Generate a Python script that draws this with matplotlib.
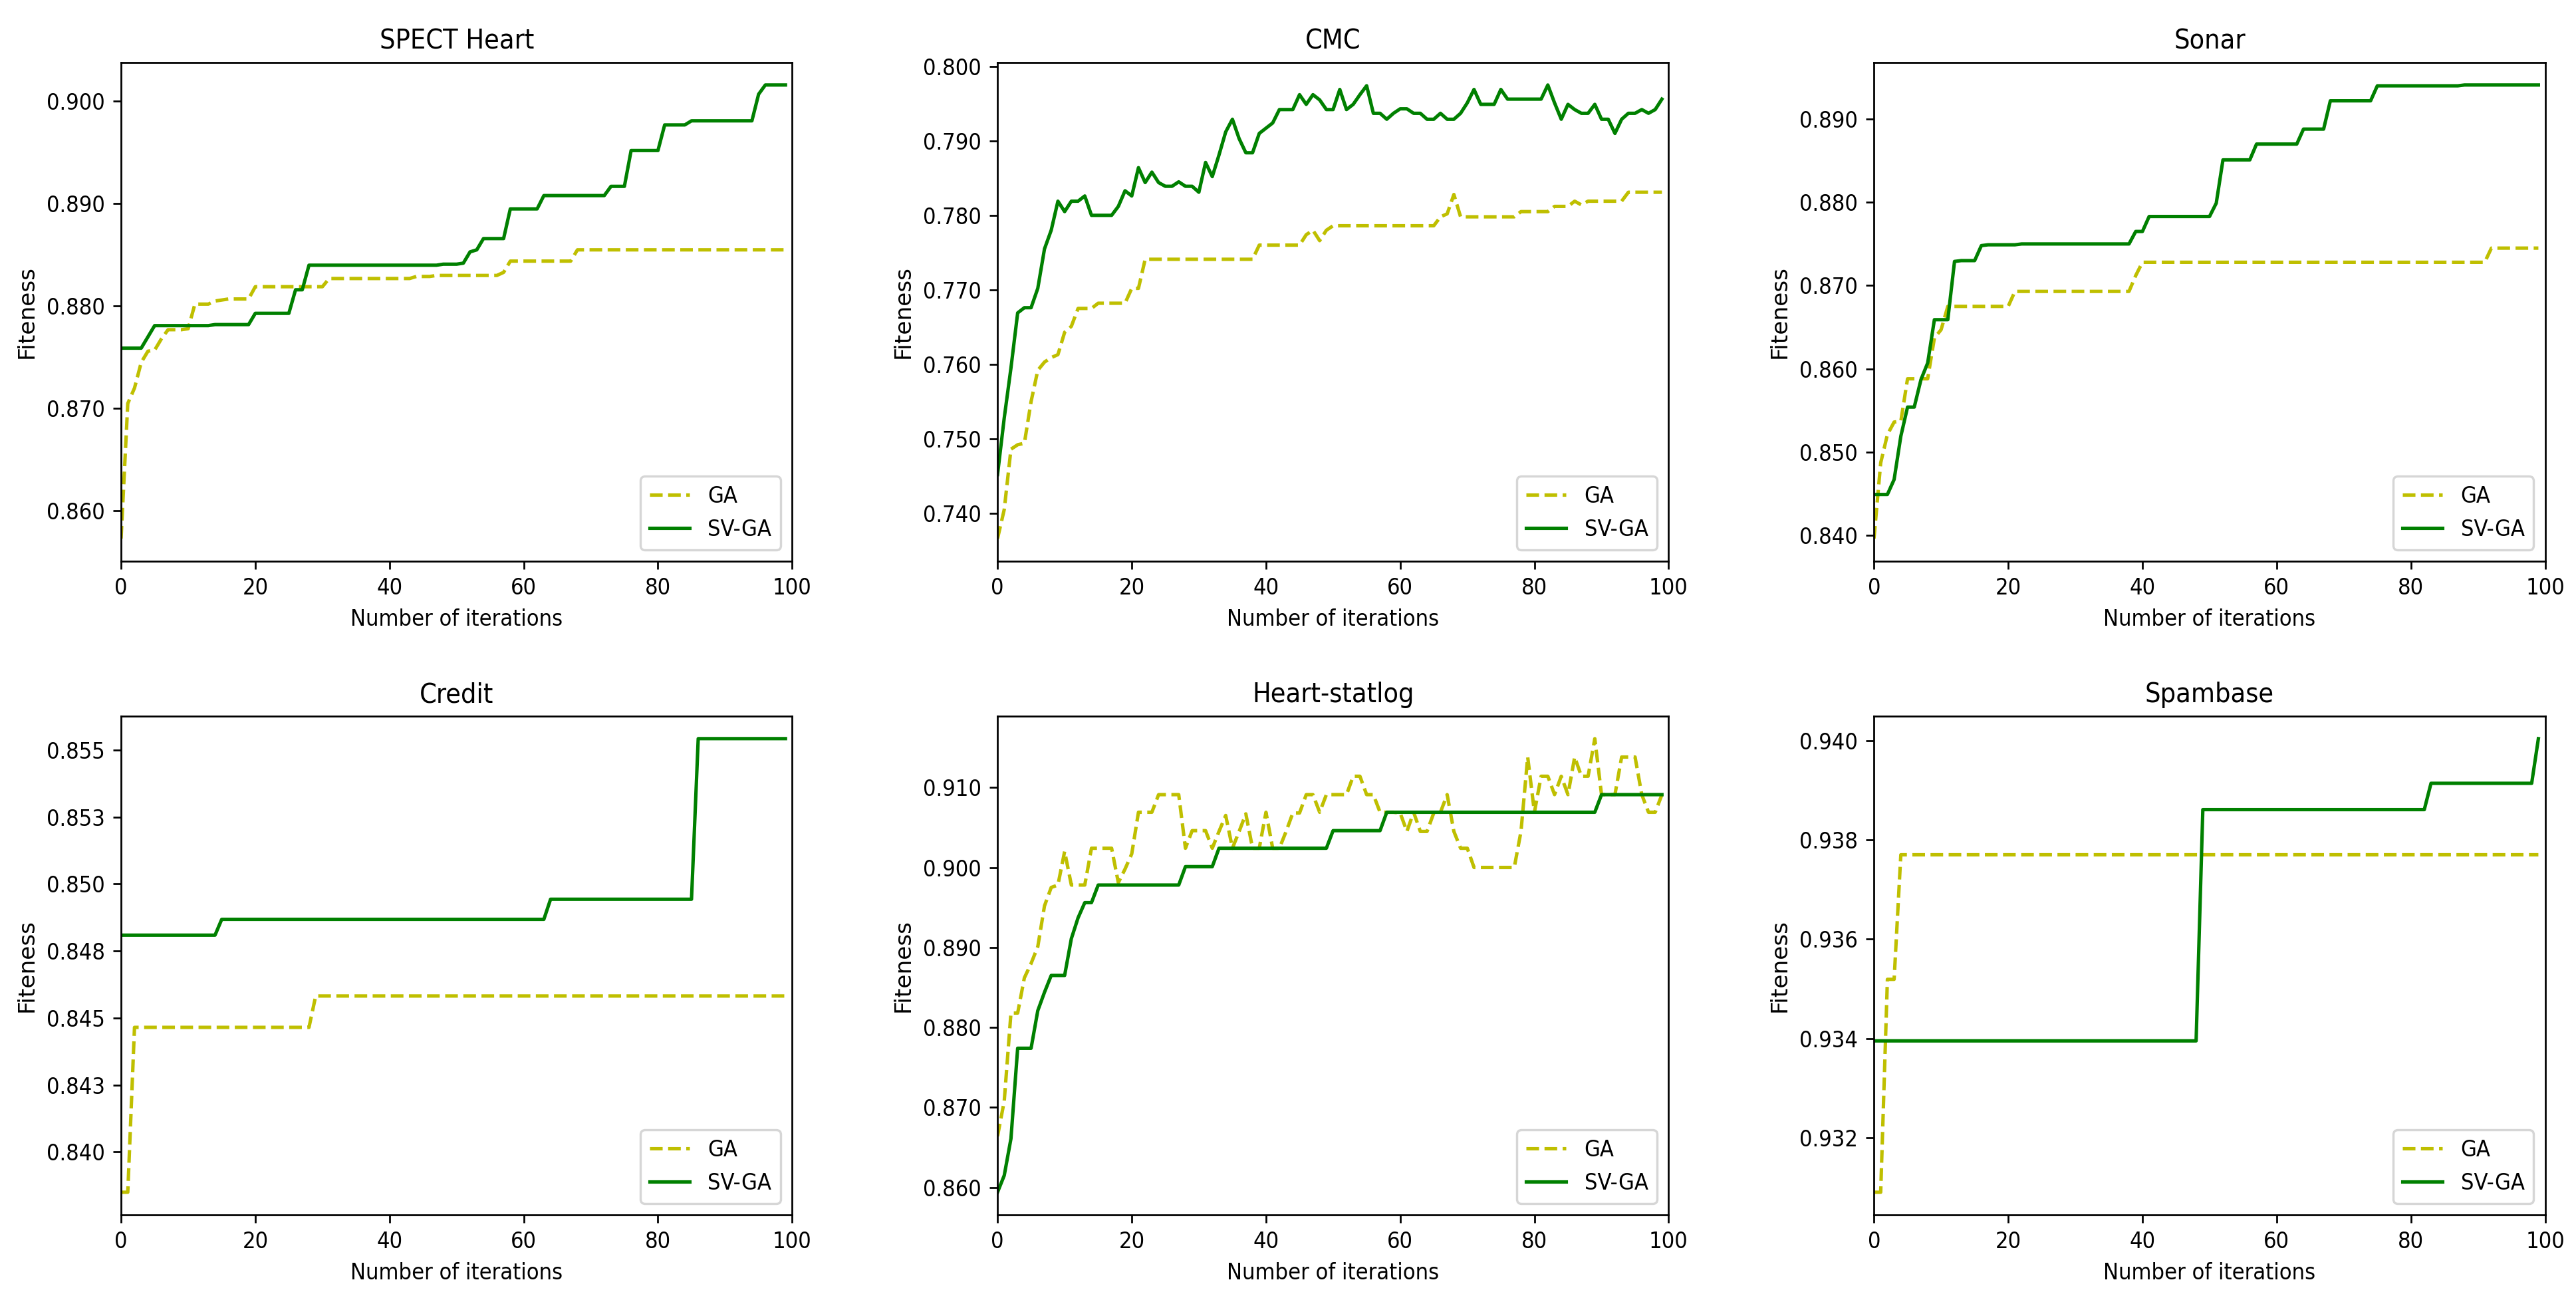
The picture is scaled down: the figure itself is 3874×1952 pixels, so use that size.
import matplotlib
matplotlib.use("Agg")
import matplotlib.pyplot as plt
from matplotlib.ticker import FuncFormatter

# the reference text looks narrow, so use the condensed DejaVu face
plt.rcParams['font.family'] = ['DejaVu Sans']
plt.rcParams['font.stretch'] = 'condensed'

iterations = list(range(100))
titles = ["SPECT Heart", "CMC", "Sonar", "Credit", "Heart-statlog", "Spambase"]

spect_ga = [
    0.8573, 0.8705, 0.8720, 0.8745, 0.8756, 0.8757, 0.8768, 0.8777, 0.8777, 0.8777,
    0.8778, 0.8802, 0.8802, 0.8802, 0.8805, 0.8806, 0.8807, 0.8807, 0.8807, 0.8807,
    0.8819, 0.8819, 0.8819, 0.8819, 0.8819, 0.8819, 0.8819, 0.8819, 0.8819, 0.8819,
    0.8819, 0.8827, 0.8827, 0.8827, 0.8827, 0.8827, 0.8827, 0.8827, 0.8827, 0.8827,
    0.8827, 0.8827, 0.8827, 0.8827, 0.8829, 0.8829, 0.8829, 0.8830, 0.8830, 0.8830,
    0.8830, 0.8830, 0.8830, 0.8830, 0.8830, 0.8830, 0.8830, 0.8833, 0.8844, 0.8844,
    0.8844, 0.8844, 0.8844, 0.8844, 0.8844, 0.8844, 0.8844, 0.8844, 0.8855, 0.8855,
    0.8855, 0.8855, 0.8855, 0.8855, 0.8855, 0.8855, 0.8855, 0.8855, 0.8855, 0.8855,
    0.8855, 0.8855, 0.8855, 0.8855, 0.8855, 0.8855, 0.8855, 0.8855, 0.8855, 0.8855,
    0.8855, 0.8855, 0.8855, 0.8855, 0.8855, 0.8855, 0.8855, 0.8855, 0.8855, 0.8855]
spect_sv = [
    0.8759, 0.8759, 0.8759, 0.8759, 0.8770, 0.8781, 0.8781, 0.8781, 0.8781, 0.8781,
    0.8781, 0.8781, 0.8781, 0.8781, 0.8782, 0.8782, 0.8782, 0.8782, 0.8782, 0.8782,
    0.8793, 0.8793, 0.8793, 0.8793, 0.8793, 0.8793, 0.8816, 0.8816, 0.8840, 0.8840,
    0.8840, 0.8840, 0.8840, 0.8840, 0.8840, 0.8840, 0.8840, 0.8840, 0.8840, 0.8840,
    0.8840, 0.8840, 0.8840, 0.8840, 0.8840, 0.8840, 0.8840, 0.8840, 0.8841, 0.8841,
    0.8841, 0.8842, 0.8853, 0.8855, 0.8866, 0.8866, 0.8866, 0.8866, 0.8895, 0.8895,
    0.8895, 0.8895, 0.8895, 0.8908, 0.8908, 0.8908, 0.8908, 0.8908, 0.8908, 0.8908,
    0.8908, 0.8908, 0.8908, 0.8917, 0.8917, 0.8917, 0.8952, 0.8952, 0.8952, 0.8952,
    0.8952, 0.8977, 0.8977, 0.8977, 0.8977, 0.8981, 0.8981, 0.8981, 0.8981, 0.8981,
    0.8981, 0.8981, 0.8981, 0.8981, 0.8981, 0.9007, 0.9016, 0.9016, 0.9016, 0.9016]

cmc_ga = [
    0.7366, 0.7405, 0.7486, 0.7492, 0.7494, 0.7550, 0.7592, 0.7603, 0.7609, 0.7613,
    0.7643, 0.7651, 0.7675, 0.7675, 0.7675, 0.7682, 0.7682, 0.7682, 0.7682, 0.7682,
    0.7702, 0.7702, 0.7741, 0.7741, 0.7741, 0.7741, 0.7741, 0.7741, 0.7741, 0.7741,
    0.7741, 0.7741, 0.7741, 0.7741, 0.7741, 0.7741, 0.7741, 0.7741, 0.7741, 0.7760,
    0.7760, 0.7760, 0.7760, 0.7760, 0.7760, 0.7760, 0.7774, 0.7780, 0.7766, 0.7780,
    0.7786, 0.7786, 0.7786, 0.7786, 0.7786, 0.7786, 0.7786, 0.7786, 0.7786, 0.7786,
    0.7786, 0.7786, 0.7786, 0.7786, 0.7786, 0.7786, 0.7798, 0.7802, 0.7828, 0.7798,
    0.7798, 0.7798, 0.7798, 0.7798, 0.7798, 0.7798, 0.7798, 0.7798, 0.7805, 0.7805,
    0.7805, 0.7805, 0.7805, 0.7812, 0.7812, 0.7812, 0.7819, 0.7814, 0.7819, 0.7819,
    0.7819, 0.7819, 0.7819, 0.7819, 0.7831, 0.7831, 0.7831, 0.7831, 0.7831, 0.7831]
cmc_sv = [
    0.7452, 0.7528, 0.7595, 0.7669, 0.7676, 0.7676, 0.7702, 0.7755, 0.7780, 0.7819,
    0.7805, 0.7819, 0.7819, 0.7826, 0.7800, 0.7800, 0.7800, 0.7800, 0.7812, 0.7833,
    0.7826, 0.7864, 0.7844, 0.7858, 0.7844, 0.7839, 0.7839, 0.7845, 0.7839, 0.7839,
    0.7831, 0.7871, 0.7852, 0.7881, 0.7912, 0.7929, 0.7903, 0.7884, 0.7884, 0.7910,
    0.7917, 0.7924, 0.7942, 0.7942, 0.7942, 0.7962, 0.7949, 0.7962, 0.7955, 0.7942,
    0.7942, 0.7969, 0.7942, 0.7949, 0.7962, 0.7974, 0.7937, 0.7937, 0.7929, 0.7937,
    0.7943, 0.7943, 0.7937, 0.7937, 0.7929, 0.7929, 0.7937, 0.7929, 0.7929, 0.7937,
    0.7951, 0.7969, 0.7949, 0.7949, 0.7949, 0.7969, 0.7956, 0.7956, 0.7956, 0.7956,
    0.7956, 0.7956, 0.7975, 0.7951, 0.7929, 0.7949, 0.7942, 0.7937, 0.7937, 0.7949,
    0.7929, 0.7929, 0.7910, 0.7929, 0.7937, 0.7937, 0.7942, 0.7937, 0.7942, 0.7956]

sonar_ga = [
    0.8396, 0.8487, 0.8521, 0.8536, 0.8537, 0.8588, 0.8588, 0.8588, 0.8588, 0.8637,
    0.8647, 0.8675, 0.8675, 0.8675, 0.8675, 0.8675, 0.8675, 0.8675, 0.8675, 0.8675,
    0.8675, 0.8693, 0.8693, 0.8693, 0.8693, 0.8693, 0.8693, 0.8693, 0.8693, 0.8693,
    0.8693, 0.8693, 0.8693, 0.8693, 0.8693, 0.8693, 0.8693, 0.8693, 0.8693, 0.8712,
    0.8728, 0.8728, 0.8728, 0.8728, 0.8728, 0.8728, 0.8728, 0.8728, 0.8728, 0.8728,
    0.8728, 0.8728, 0.8728, 0.8728, 0.8728, 0.8728, 0.8728, 0.8728, 0.8728, 0.8728,
    0.8728, 0.8728, 0.8728, 0.8728, 0.8728, 0.8728, 0.8728, 0.8728, 0.8728, 0.8728,
    0.8728, 0.8728, 0.8728, 0.8728, 0.8728, 0.8728, 0.8728, 0.8728, 0.8728, 0.8728,
    0.8728, 0.8728, 0.8728, 0.8728, 0.8728, 0.8728, 0.8728, 0.8728, 0.8728, 0.8728,
    0.8728, 0.8728, 0.8745, 0.8745, 0.8745, 0.8745, 0.8745, 0.8745, 0.8745, 0.8745]
sonar_sv = [
    0.8449, 0.8449, 0.8449, 0.8467, 0.8519, 0.8554, 0.8554, 0.8587, 0.8607, 0.8659,
    0.8659, 0.8659, 0.8729, 0.8730, 0.8730, 0.8730, 0.8748, 0.8749, 0.8749, 0.8749,
    0.8749, 0.8749, 0.8750, 0.8750, 0.8750, 0.8750, 0.8750, 0.8750, 0.8750, 0.8750,
    0.8750, 0.8750, 0.8750, 0.8750, 0.8750, 0.8750, 0.8750, 0.8750, 0.8750, 0.8765,
    0.8765, 0.8783, 0.8783, 0.8783, 0.8783, 0.8783, 0.8783, 0.8783, 0.8783, 0.8783,
    0.8783, 0.8799, 0.8851, 0.8851, 0.8851, 0.8851, 0.8851, 0.8870, 0.8870, 0.8870,
    0.8870, 0.8870, 0.8870, 0.8870, 0.8888, 0.8888, 0.8888, 0.8888, 0.8922, 0.8922,
    0.8922, 0.8922, 0.8922, 0.8922, 0.8922, 0.8940, 0.8940, 0.8940, 0.8940, 0.8940,
    0.8940, 0.8940, 0.8940, 0.8940, 0.8940, 0.8940, 0.8940, 0.8940, 0.8941, 0.8941,
    0.8941, 0.8941, 0.8941, 0.8941, 0.8941, 0.8941, 0.8941, 0.8941, 0.8941, 0.8941]

credit_ga = [
    0.83850, 0.83850, 0.84465, 0.84465, 0.84465, 0.84465, 0.84465, 0.84465, 0.84465, 0.84465,
    0.84465, 0.84465, 0.84465, 0.84465, 0.84465, 0.84465, 0.84465, 0.84465, 0.84465, 0.84465,
    0.84465, 0.84465, 0.84465, 0.84465, 0.84465, 0.84465, 0.84465, 0.84465, 0.84465, 0.84582,
    0.84582, 0.84582, 0.84582, 0.84582, 0.84582, 0.84582, 0.84582, 0.84582, 0.84582, 0.84582,
    0.84582, 0.84582, 0.84582, 0.84582, 0.84582, 0.84582, 0.84582, 0.84582, 0.84582, 0.84582,
    0.84582, 0.84582, 0.84582, 0.84582, 0.84582, 0.84582, 0.84582, 0.84582, 0.84582, 0.84582,
    0.84582, 0.84582, 0.84582, 0.84582, 0.84582, 0.84582, 0.84582, 0.84582, 0.84582, 0.84582,
    0.84582, 0.84582, 0.84582, 0.84582, 0.84582, 0.84582, 0.84582, 0.84582, 0.84582, 0.84582,
    0.84582, 0.84582, 0.84582, 0.84582, 0.84582, 0.84582, 0.84582, 0.84582, 0.84582, 0.84582,
    0.84582, 0.84582, 0.84582, 0.84582, 0.84582, 0.84582, 0.84582, 0.84582, 0.84582, 0.84582]
credit_sv = [
    0.84809, 0.84809, 0.84809, 0.84809, 0.84809, 0.84809, 0.84809, 0.84809, 0.84809, 0.84809,
    0.84809, 0.84809, 0.84809, 0.84809, 0.84809, 0.84868, 0.84868, 0.84868, 0.84868, 0.84868,
    0.84868, 0.84868, 0.84868, 0.84868, 0.84868, 0.84868, 0.84868, 0.84868, 0.84868, 0.84868,
    0.84868, 0.84868, 0.84868, 0.84868, 0.84868, 0.84868, 0.84868, 0.84868, 0.84868, 0.84868,
    0.84868, 0.84868, 0.84868, 0.84868, 0.84868, 0.84868, 0.84868, 0.84868, 0.84868, 0.84868,
    0.84868, 0.84868, 0.84868, 0.84868, 0.84868, 0.84868, 0.84868, 0.84868, 0.84868, 0.84868,
    0.84868, 0.84868, 0.84868, 0.84868, 0.84943, 0.84943, 0.84943, 0.84943, 0.84943, 0.84943,
    0.84943, 0.84943, 0.84943, 0.84943, 0.84943, 0.84943, 0.84943, 0.84943, 0.84943, 0.84943,
    0.84943, 0.84943, 0.84943, 0.84943, 0.84943, 0.84943, 0.85542, 0.85542, 0.85542, 0.85542,
    0.85542, 0.85542, 0.85542, 0.85542, 0.85542, 0.85542, 0.85542, 0.85542, 0.85542, 0.85542]

heart_ga = [
    0.8664, 0.8708, 0.8818, 0.8818, 0.8862, 0.8880, 0.8901, 0.8952, 0.8975, 0.8978,
    0.9020, 0.8978, 0.8978, 0.8978, 0.9024, 0.9024, 0.9024, 0.9024, 0.8981, 0.8998,
    0.9017, 0.9069, 0.9069, 0.9069, 0.9091, 0.9091, 0.9091, 0.9091, 0.9024, 0.9046,
    0.9046, 0.9046, 0.9024, 0.9045, 0.9065, 0.9024, 0.9045, 0.9067, 0.9024, 0.9024,
    0.9069, 0.9024, 0.9024, 0.9045, 0.9068, 0.9068, 0.9091, 0.9091, 0.9069, 0.9091,
    0.9091, 0.9091, 0.9091, 0.9114, 0.9114, 0.9091, 0.9091, 0.9069, 0.9069, 0.9069,
    0.9068, 0.9045, 0.9069, 0.9045, 0.9045, 0.9068, 0.9069, 0.9091, 0.9045, 0.9024,
    0.9024, 0.9000, 0.9000, 0.9000, 0.9000, 0.9000, 0.9000, 0.9000, 0.9045, 0.9138,
    0.9069, 0.9114, 0.9114, 0.9091, 0.9114, 0.9091, 0.9138, 0.9114, 0.9114, 0.9161,
    0.9091, 0.9091, 0.9091, 0.9138, 0.9138, 0.9138, 0.9091, 0.9069, 0.9069, 0.9091]
heart_sv = [
    0.8594, 0.8615, 0.8661, 0.8774, 0.8774, 0.8774, 0.8821, 0.8844, 0.8865, 0.8865,
    0.8865, 0.8911, 0.8937, 0.8956, 0.8956, 0.8978, 0.8978, 0.8978, 0.8978, 0.8978,
    0.8978, 0.8978, 0.8978, 0.8978, 0.8978, 0.8978, 0.8978, 0.8978, 0.9001, 0.9001,
    0.9001, 0.9001, 0.9001, 0.9024, 0.9024, 0.9024, 0.9024, 0.9024, 0.9024, 0.9024,
    0.9024, 0.9024, 0.9024, 0.9024, 0.9024, 0.9024, 0.9024, 0.9024, 0.9024, 0.9024,
    0.9046, 0.9046, 0.9046, 0.9046, 0.9046, 0.9046, 0.9046, 0.9046, 0.9069, 0.9069,
    0.9069, 0.9069, 0.9069, 0.9069, 0.9069, 0.9069, 0.9069, 0.9069, 0.9069, 0.9069,
    0.9069, 0.9069, 0.9069, 0.9069, 0.9069, 0.9069, 0.9069, 0.9069, 0.9069, 0.9069,
    0.9069, 0.9069, 0.9069, 0.9069, 0.9069, 0.9069, 0.9069, 0.9069, 0.9069, 0.9069,
    0.9091, 0.9091, 0.9091, 0.9091, 0.9091, 0.9091, 0.9091, 0.9091, 0.9091, 0.9091]

spam_ga = [
    0.93090, 0.93090, 0.93519, 0.93519, 0.93770, 0.93770, 0.93770, 0.93770, 0.93770, 0.93770,
    0.93770, 0.93770, 0.93770, 0.93770, 0.93770, 0.93770, 0.93770, 0.93770, 0.93770, 0.93770,
    0.93770, 0.93770, 0.93770, 0.93770, 0.93770, 0.93770, 0.93770, 0.93770, 0.93770, 0.93770,
    0.93770, 0.93770, 0.93770, 0.93770, 0.93770, 0.93770, 0.93770, 0.93770, 0.93770, 0.93770,
    0.93770, 0.93770, 0.93770, 0.93770, 0.93770, 0.93770, 0.93770, 0.93770, 0.93770, 0.93770,
    0.93770, 0.93770, 0.93770, 0.93770, 0.93770, 0.93770, 0.93770, 0.93770, 0.93770, 0.93770,
    0.93770, 0.93770, 0.93770, 0.93770, 0.93770, 0.93770, 0.93770, 0.93770, 0.93770, 0.93770,
    0.93770, 0.93770, 0.93770, 0.93770, 0.93770, 0.93770, 0.93770, 0.93770, 0.93770, 0.93770,
    0.93770, 0.93770, 0.93770, 0.93770, 0.93770, 0.93770, 0.93770, 0.93770, 0.93770, 0.93770,
    0.93770, 0.93770, 0.93770, 0.93770, 0.93770, 0.93770, 0.93770, 0.93770, 0.93770, 0.93770]
spam_sv = [
    0.93395, 0.93395, 0.93395, 0.93395, 0.93395, 0.93395, 0.93395, 0.93395, 0.93395, 0.93395,
    0.93395, 0.93395, 0.93395, 0.93395, 0.93395, 0.93395, 0.93395, 0.93395, 0.93395, 0.93395,
    0.93395, 0.93395, 0.93395, 0.93395, 0.93395, 0.93395, 0.93395, 0.93395, 0.93395, 0.93395,
    0.93395, 0.93395, 0.93395, 0.93395, 0.93395, 0.93395, 0.93395, 0.93395, 0.93395, 0.93395,
    0.93395, 0.93395, 0.93395, 0.93395, 0.93395, 0.93395, 0.93395, 0.93395, 0.93395, 0.93861,
    0.93861, 0.93861, 0.93861, 0.93861, 0.93861, 0.93861, 0.93861, 0.93861, 0.93861, 0.93861,
    0.93861, 0.93861, 0.93861, 0.93861, 0.93861, 0.93861, 0.93861, 0.93861, 0.93861, 0.93861,
    0.93861, 0.93861, 0.93861, 0.93861, 0.93861, 0.93861, 0.93861, 0.93861, 0.93861, 0.93861,
    0.93861, 0.93861, 0.93861, 0.93914, 0.93914, 0.93914, 0.93914, 0.93914, 0.93914, 0.93914,
    0.93914, 0.93914, 0.93914, 0.93914, 0.93914, 0.93914, 0.93914, 0.93914, 0.93914, 0.94004]

ga_runs = [spect_ga, cmc_ga, sonar_ga, credit_ga, heart_ga, spam_ga]
sv_runs = [spect_sv, cmc_sv, sonar_sv, credit_sv, heart_sv, spam_sv]

fig, axes = plt.subplots(2, 3, figsize=(3874 / 247, 1952 / 247), dpi=247)
fig.subplots_adjust(left=0.047, right=0.988, top=0.952, bottom=0.064, wspace=0.306, hspace=0.31)

fmt = FuncFormatter(lambda v, pos: "%.3f" % (v + 1e-9))
for ax, title, ga, sv in zip(axes.flat, titles, ga_runs, sv_runs):
    ax.plot(iterations, ga, "y--", label="GA")
    ax.plot(iterations, sv, "g-", label="SV-GA")
    ax.set_title(title)
    ax.set_xlabel("Number of iterations")
    ax.set_ylabel("Fiteness", stretch="normal")
    ax.set_xlim(0, 100)
    ax.yaxis.set_major_formatter(fmt)
    ax.legend(loc="lower right", handlelength=1.75)

fig.savefig("out.png")
